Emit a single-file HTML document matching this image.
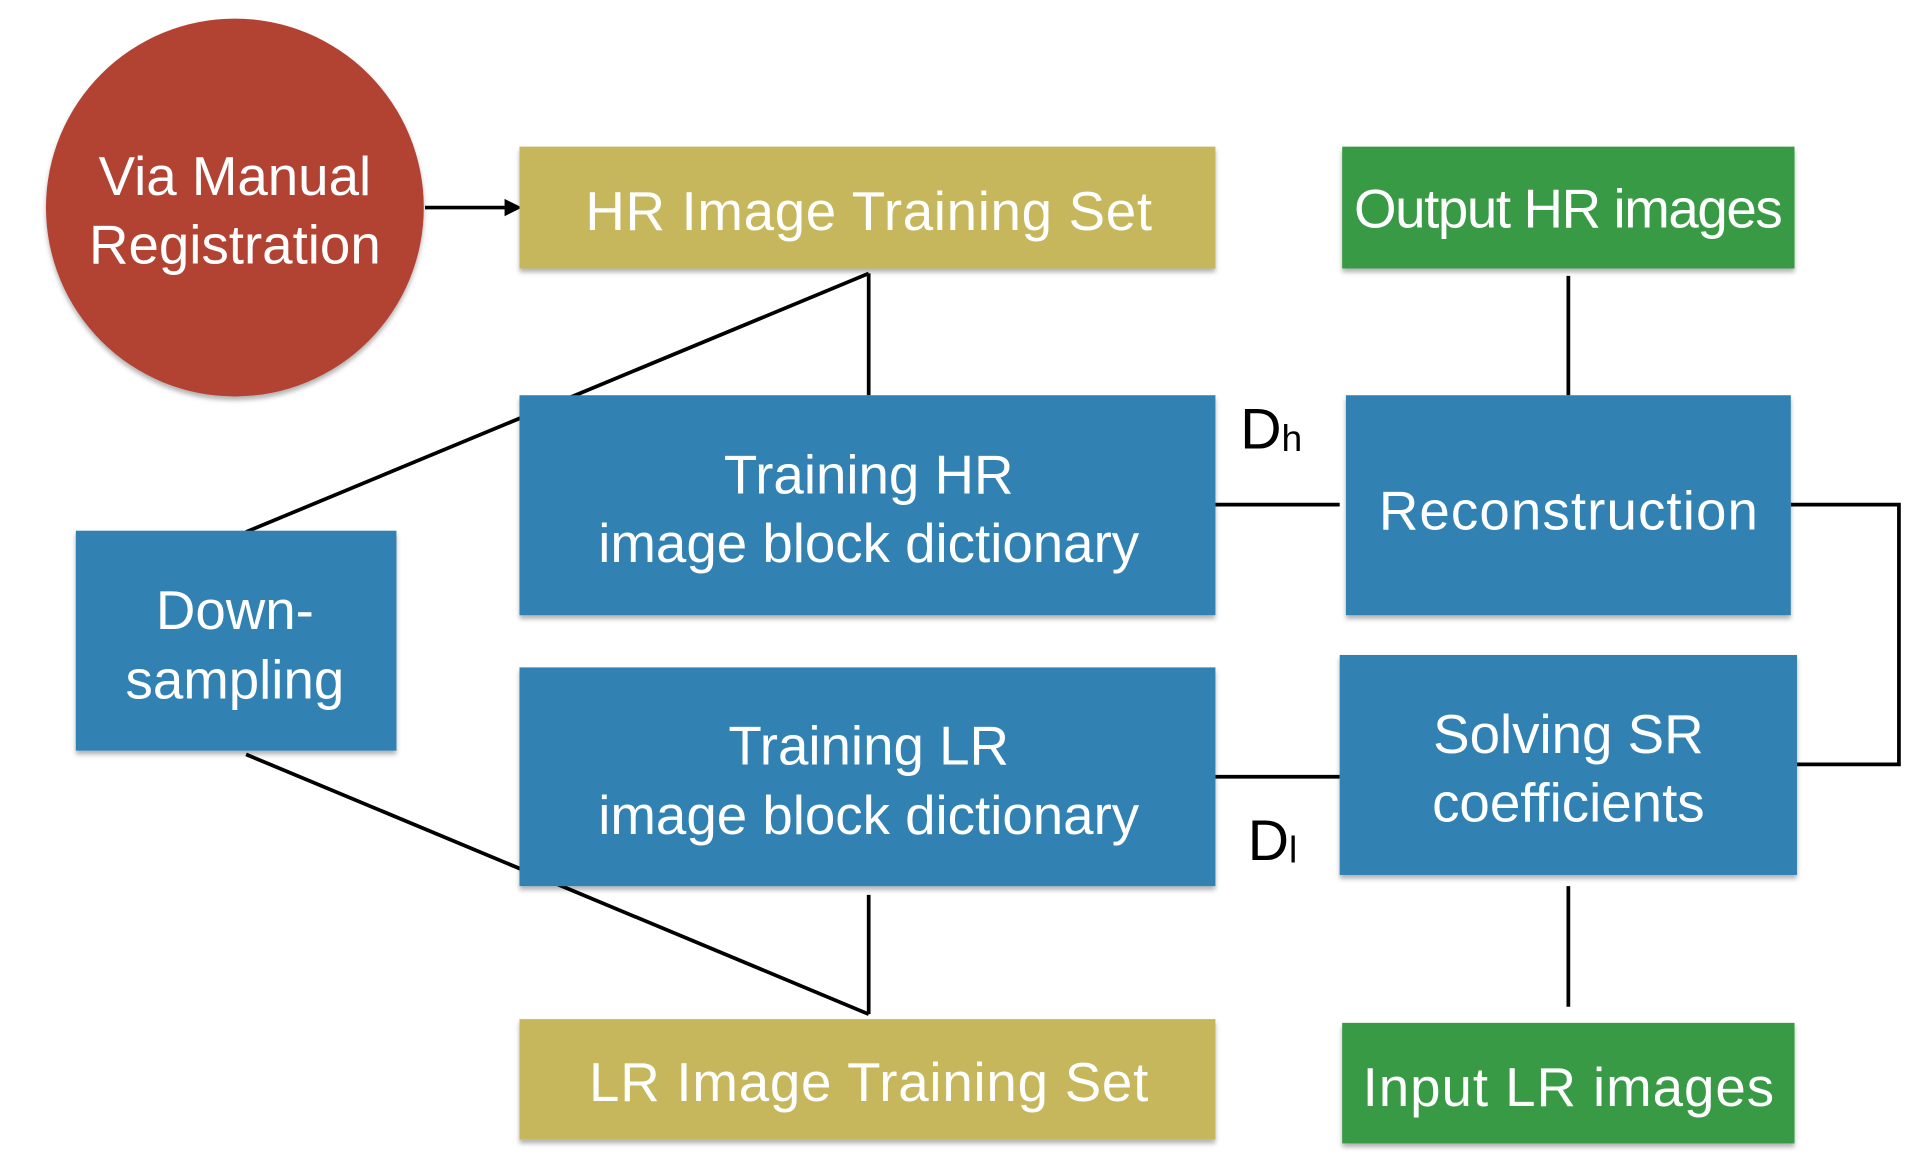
<!DOCTYPE html>
<html><head><meta charset="utf-8"><style>
html,body{margin:0;padding:0;background:#fff;}
svg{display:block;}
text{font-family:"Liberation Sans",sans-serif;}
</style></head><body>
<svg width="1930" height="1172" viewBox="0 0 1553 943" preserveAspectRatio="none" xmlns="http://www.w3.org/2000/svg">
<defs>
<filter id="sh" x="-10%" y="-10%" width="120%" height="130%">
<feDropShadow dx="0" dy="3" stdDeviation="2" flood-color="#000" flood-opacity="0.3"/>
</filter>
</defs>
<g stroke="#000" stroke-width="3" fill="none">
<line x1="342" y1="167" x2="410" y2="167"/>
<line x1="699" y1="220" x2="699" y2="318"/>
<line x1="699" y1="220" x2="198" y2="428"/>
<line x1="198" y1="607" x2="699" y2="816"/>
<line x1="699" y1="720" x2="699" y2="816"/>
<line x1="978" y1="406" x2="1078" y2="406"/>
<line x1="978" y1="625" x2="1078" y2="625"/>
<polyline points="1441,406 1528,406 1528,615 1446,615"/>
<line x1="1262" y1="222" x2="1262" y2="318"/>
<line x1="1262" y1="713" x2="1262" y2="810"/>
</g>
<polygon points="406,160 420,167 406,174" fill="#000"/>
<circle cx="189" cy="167" r="152" fill="#b24233" filter="url(#sh)"/>
<g filter="url(#sh)">
<rect x="418" y="118" width="560" height="98" fill="#c6b65b"/>
<rect x="1080" y="118" width="364" height="98" fill="#389a44"/>
<rect x="418" y="318" width="560" height="177" fill="#3381b3"/>
<rect x="1083" y="318" width="358" height="177" fill="#3381b3"/>
<rect x="61" y="427" width="258" height="177" fill="#3381b3"/>
<rect x="418" y="537" width="560" height="176" fill="#3381b3"/>
<rect x="1078" y="527" width="368" height="177" fill="#3381b3"/>
<rect x="418" y="820" width="560" height="97" fill="#c6b65b"/>
<rect x="1080" y="823" width="364" height="97" fill="#389a44"/>
</g>
<g fill="#fff" font-size="44" text-anchor="middle">
<text x="189" y="157">Via Manual</text>
<text x="189" y="212">Registration</text>
<text x="699" y="185" textLength="456">HR Image Training Set</text>
<text x="1262" y="183" textLength="345">Output HR images</text>
<text x="699" y="397">Training HR</text>
<text x="699" y="452">image block dictionary</text>
<text x="1262" y="426" textLength="305">Reconstruction</text>
<text x="189" y="506">Down-</text>
<text x="189" y="562">sampling</text>
<text x="699" y="615">Training LR</text>
<text x="699" y="671">image block dictionary</text>
<text x="1262" y="606">Solving SR</text>
<text x="1262" y="661">coefficients</text>
<text x="699" y="886" textLength="450">LR Image Training Set</text>
<text x="1262" y="890" textLength="331">Input LR images</text>
</g>
<text x="998" y="361" font-size="46" fill="#000">D<tspan font-size="30" dy="2">h</tspan></text>
<text x="1004" y="692" font-size="46" fill="#000">D<tspan font-size="30" dy="2">l</tspan></text>
</svg>
</body></html>
